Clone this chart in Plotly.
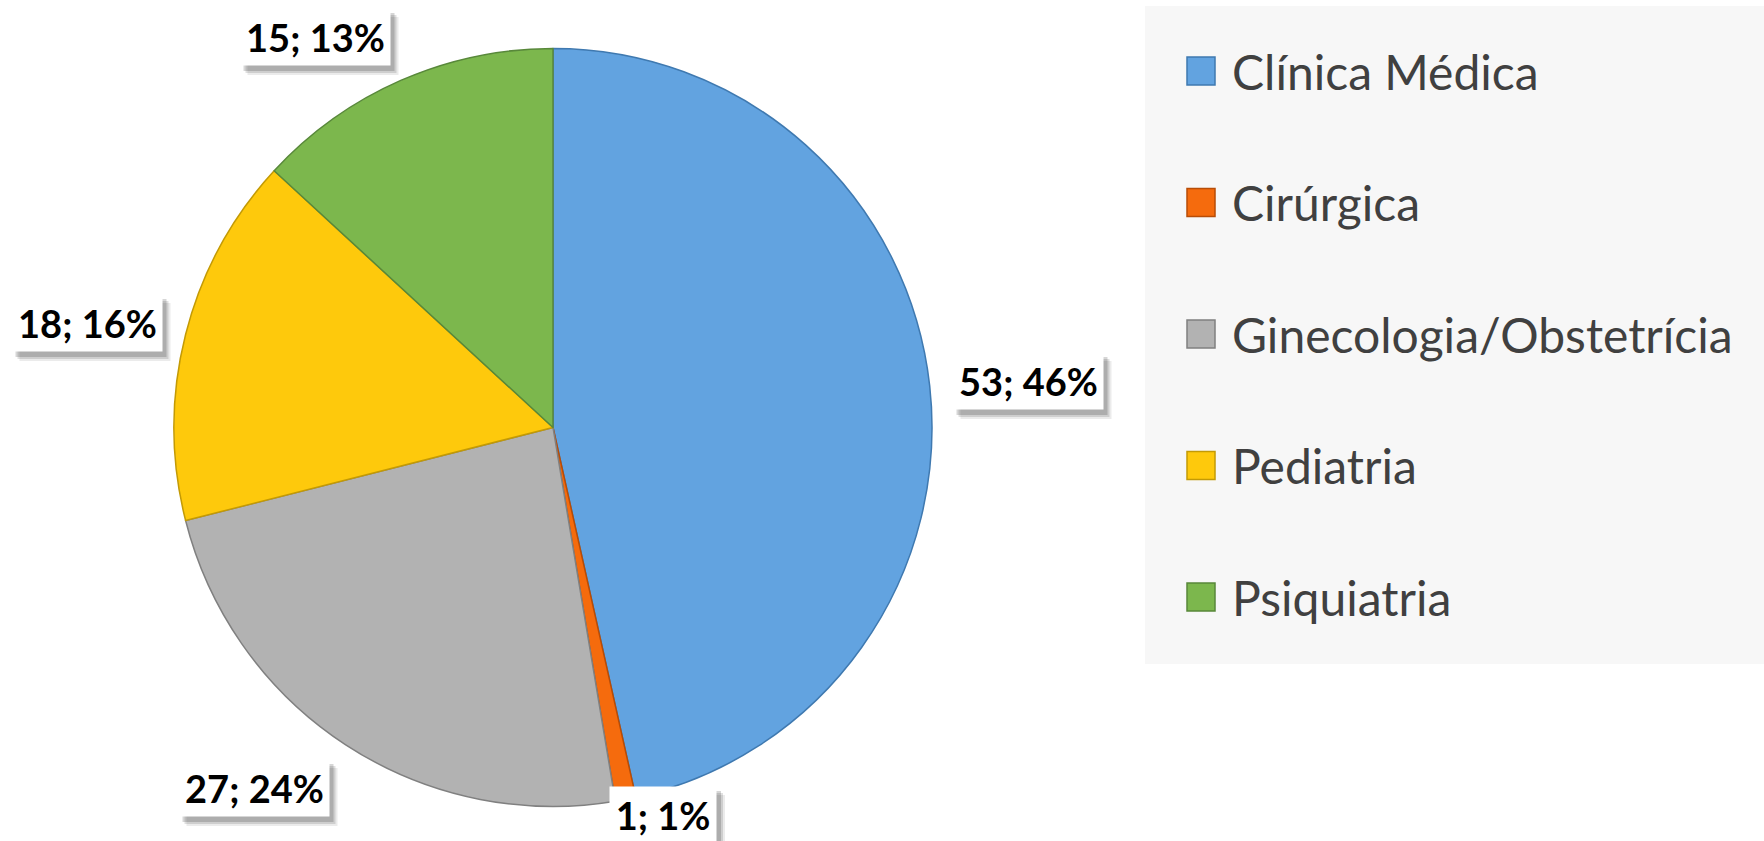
import plotly.graph_objects as go

# ---- data ----
categories = ["Clínica Médica", "Cirúrgica", "Ginecologia/Obstetrícia", "Pediatria", "Psiquiatria"]
values = [53, 1, 27, 18, 15]
colors = ["#62a3e0", "#f56b0d", "#b2b2b2", "#fec90c", "#7cb74d"]
edge_colors = ["#3f79b0", "#b84c06", "#808080", "#c39a05", "#58883a"]

# ---- layout constants (pixels in a 1764x841 canvas) ----
W, H = 1764, 841
CX, CY, R = 553, 427.5, 379
label_px = [(1028, 381), (663, 815), (254, 788), (87, 323), (315, 37)]
legend_box = (1145, 6, 1764, 664)
legend_first_y, legend_step = 71, 131.5
legend_marker_x = (1187, 1215)
legend_text_x = 1230

def px(x):
    return x / W

def py(y):
    return 1 - y / H

total = sum(values)
label_texts = [f"{v}; {round(100 * v / total)}%" for v in values]

# approximate glyph widths (px) of bold 38px text, for sizing the label shadows
GLYPH_W = {";": 10, " ": 8, "%": 31}
def text_w(t):
    return sum(GLYPH_W.get(c, 21.5) for c in t)

fig = go.Figure()
fig.add_trace(go.Pie(
    labels=categories,
    values=values,
    sort=False,
    direction="clockwise",
    rotation=0,
    marker=dict(colors=colors, line=dict(color=edge_colors, width=1.5)),
    textinfo="none",
    hoverinfo="label+value+percent",
    showlegend=False,
    domain=dict(x=[px(CX - R), px(CX + R)], y=[py(CY + R), py(CY - R)]),
))

annotations = []
shapes = [dict(
    type="rect", xref="paper", yref="paper", layer="below",
    x0=px(legend_box[0]), x1=px(legend_box[2]), y0=py(legend_box[3]), y1=py(legend_box[1]),
    fillcolor="#f7f7f7", line=dict(width=0),
)]

FONT = "Lato, Carlito, Calibri, sans-serif"
label_font = dict(family=FONT, size=38, color="black")
for (lx, ly), t in zip(label_px, label_texts):
    bw = text_w(t) + 16
    bh = 58
    for dx, dy, a in [(8, -9, 0.08), (6, -7, 0.12), (4, -5, 0.16)]:
        shapes.append(dict(
            type="rect", xref="paper", yref="paper", layer="above",
            xsizemode="pixel", ysizemode="pixel",
            xanchor=px(lx), yanchor=py(ly),
            x0=-bw / 2 + dx, x1=bw / 2 + dx, y0=-bh / 2 + dy, y1=bh / 2 + dy,
            fillcolor=f"rgba(0,0,0,{a})", line=dict(width=0),
        ))
    annotations.append(dict(
        x=px(lx), y=py(ly), xref="paper", yref="paper", text=f"<b>{t}</b>",
        xanchor="center", yanchor="middle",
        width=bw - 2, height=bh - 2,
        showarrow=False, font=label_font, bgcolor="white", borderpad=0,
    ))

for i, (cat, col, ecol) in enumerate(zip(categories, colors, edge_colors)):
    yc = legend_first_y + legend_step * i
    half = (legend_marker_x[1] - legend_marker_x[0]) / 2
    shapes.append(dict(
        type="rect", xref="paper", yref="paper",
        x0=px(legend_marker_x[0]), x1=px(legend_marker_x[1]),
        y0=py(yc + half), y1=py(yc - half),
        fillcolor=col, line=dict(color=ecol, width=1.5),
    ))
    annotations.append(dict(
        x=px(legend_text_x), y=py(yc), xref="paper", yref="paper",
        xanchor="left", yanchor="middle", text=cat, showarrow=False,
        font=dict(family=FONT, size=48, color="#404040"),
    ))

fig.update_layout(
    width=W, height=H,
    margin=dict(l=0, r=0, t=0, b=0),
    paper_bgcolor="white",
    plot_bgcolor="white",
    annotations=annotations,
    shapes=shapes,
)

fig.write_html("out.html", config={"displayModeBar": False},
               post_script="document.body.style.margin='0';")
